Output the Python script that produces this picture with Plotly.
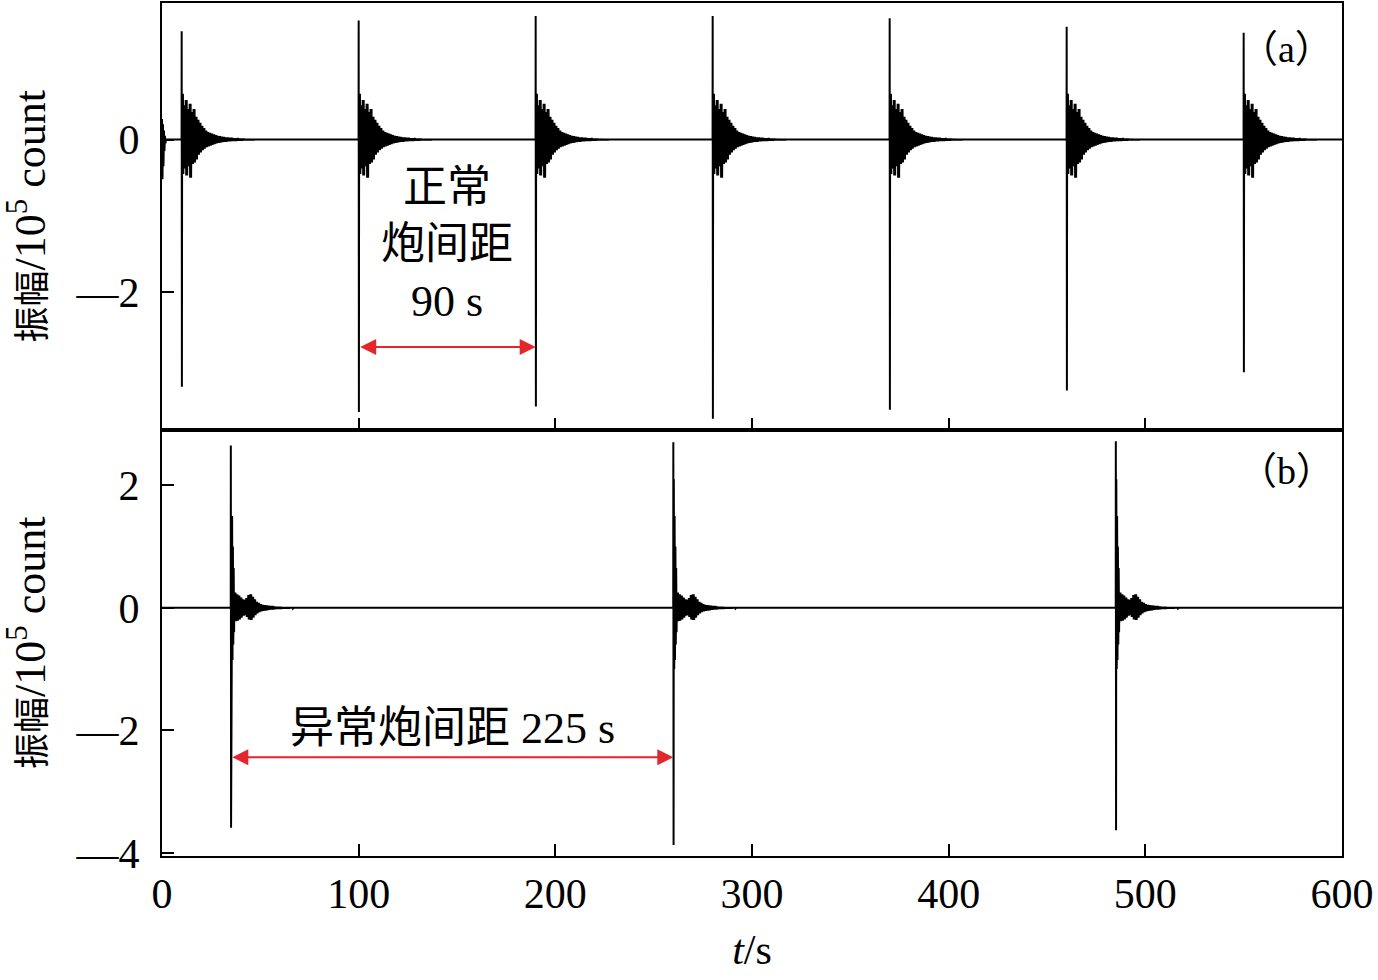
import plotly.graph_objects as go
from plotly.subplots import make_subplots

# ---------------- data (units: 10^5 count, time in s) ----------------
shots_a = [10, 100, 190, 280, 370, 460, 550]
peak_pos_a = [1.42, 1.56, 1.62, 1.62, 1.59, 1.48, 1.40]
peak_neg_a = [-3.24, -3.57, -3.50, -3.66, -3.54, -3.29, -3.05]
head_a = [0.55, -0.40, 0.60, -0.45]
coda_up_a = [0.45, 0.52, 0.40, 0.47, 0.36, 0.40, 0.30, 0.26, 0.22, 0.18, 0.15, 0.12,
             0.10, 0.09, 0.08, 0.07, 0.06, 0.05, 0.045, 0.04, 0.035, 0.03, 0.03, 0.025,
             0.025, 0.02, 0.02, 0.02, 0.015, 0.015, 0.015, 0.012, 0.012, 0.01, 0.01, 0.01]
coda_lo_a = [-0.38, -0.47, -0.35, -0.50, -0.32, -0.30, -0.26, -0.20, -0.17, -0.14, -0.12, -0.10,
             -0.09, -0.08, -0.07, -0.06, -0.05, -0.045, -0.04, -0.035, -0.03, -0.03, -0.025, -0.025,
             -0.02, -0.02, -0.02, -0.015, -0.015, -0.015, -0.012, -0.012, -0.01, -0.01, -0.01, -0.01]
init_a = [0.27, -0.52, 0.20, -0.35, 0.12, -0.15, 0.05, -0.05]

shots_b = [35, 260, 485]
peak_pos_b = [2.65, 2.70, 2.72]
peak_neg_b = [-3.59, -3.87, -3.63]
head_b = [2.10, -1.00, 1.50, -0.85, 1.00, -0.60, 0.65, -0.40]
coda_up_b = [0.25, 0.22, 0.20, 0.17, 0.14, 0.13, 0.16, 0.21, 0.22, 0.18, 0.14, 0.10,
             0.08, 0.06, 0.05, 0.045, 0.04, 0.035, 0.03, 0.03, 0.025, 0.02, 0.02, 0.02,
             0.015, 0.015, 0.015, 0.012, 0.01, 0.01]
coda_lo_b = [-0.22, -0.21, -0.19, -0.16, -0.13, -0.12, -0.15, -0.19, -0.20, -0.16, -0.12, -0.09,
             -0.07, -0.06, -0.05, -0.045, -0.04, -0.035, -0.03, -0.03, -0.025, -0.02, -0.02, -0.02,
             -0.015, -0.015, -0.015, -0.012, -0.01, -0.01]
init_b = []

x_ticks = [0, 100, 200, 300, 400, 500, 600]
y_ticks_a = [0, -2]
y_ticks_b = [2, 0, -2, -4]


def build(shots, pos, neg, head, up, lo, init):
    xs, ys = [], []
    t = 0.0
    for v in init:
        xs.append(t); ys.append(v); t += 0.25
    xs.append(t); ys.append(0.0)
    for t0, p, n in zip(shots, pos, neg):
        xs += [t0 - 0.05, t0, t0 + 0.12]
        ys += [0.0, p, n]
        tt = t0 + 0.25
        for v in head:
            xs.append(tt); ys.append(v); tt += 0.2
        for k, (u, l) in enumerate(zip(up, lo)):
            for j in range(4):
                xs.append(tt + k + j * 0.25)
                ys.append(u if j % 2 == 0 else l)
        xs.append(tt + len(up)); ys.append(0.0)
    xs.append(600); ys.append(0.0)
    return xs, ys


xa, ya = build(shots_a, peak_pos_a, peak_neg_a, head_a, coda_up_a, coda_lo_a, init_a)
xb, yb = build(shots_b, peak_pos_b, peak_neg_b, head_b, coda_up_b, coda_lo_b, init_b)

fig = make_subplots(rows=2, cols=1, shared_xaxes=False, vertical_spacing=0.0)
fig.add_trace(go.Scatter(x=xa, y=ya, mode="lines", line=dict(color="black", width=2),
                         showlegend=False, hoverinfo="skip"), row=1, col=1)
fig.add_trace(go.Scatter(x=xb, y=yb, mode="lines", line=dict(color="black", width=2),
                         showlegend=False, hoverinfo="skip"), row=2, col=1)

FONT = "Liberation Serif, Times New Roman, Noto Sans CJK SC"
axis_common = dict(showline=True, linecolor="black", linewidth=2, mirror=True,
                   ticks="inside", ticklen=12, tickwidth=2, tickcolor="black",
                   showgrid=False, zeroline=False,
                   tickfont=dict(family=FONT, size=42, color="black"))

fig.update_xaxes(range=[0, 600], tickvals=x_ticks, **axis_common)
fig.update_xaxes(showticklabels=False, row=1, col=1)
fig.update_xaxes(ticktext=[str(v) for v in x_ticks], ticklabelstandoff=0,
                 title=dict(text="<i>t</i>/s", font=dict(family=FONT, size=42, color="black"),
                            standoff=18),
                 row=2, col=1)

def lbl(v):
    return ("—" + str(-v)) if v < 0 else str(v)

ytitle = dict(text='<span style="font-size:36px">振幅</span>/10<sup>5</sup> count',
              font=dict(family=FONT, size=44, color="black"), standoff=18)
fig.update_yaxes(range=[-3.80, 1.79], tickvals=y_ticks_a, ticktext=[lbl(v) for v in y_ticks_a],
                 title=ytitle, ticklabelstandoff=12, **axis_common, row=1, col=1)
fig.update_yaxes(range=[-4.05, 2.91], tickvals=y_ticks_b, ticktext=[lbl(v) for v in y_ticks_b],
                 title=ytitle, ticklabelstandoff=12, **axis_common, row=2, col=1)

fig.update_layout(xaxis=dict(domain=[0, 1]), yaxis=dict(domain=[0.5, 1.0]),
                  yaxis2=dict(domain=[0.0, 0.5]))

RED = "#e3262c"
ann_font = dict(family="Liberation Serif, Noto Sans CJK SC", size=44, color="black")
# arrows
fig.add_annotation(x=190, y=-2.72, ax=100, ay=-2.72, xref="x", yref="y", axref="x", ayref="y",
                   text="", showarrow=True, arrowhead=2, startarrowhead=2, arrowside="end+start",
                   arrowcolor=RED, arrowwidth=2, arrowsize=1.6, startarrowsize=1.6,
                   standoff=0, startstandoff=0)
fig.add_annotation(x=260, y=-2.44, ax=35, ay=-2.44, xref="x2", yref="y2", axref="x2", ayref="y2",
                   text="", showarrow=True, arrowhead=2, startarrowhead=2, arrowside="end+start",
                   arrowcolor=RED, arrowwidth=2, arrowsize=1.6, startarrowsize=1.6,
                   standoff=0, startstandoff=0)
# labels
fig.add_annotation(x=145, y=-1.38, xref="x", yref="y", text="正常<br>炮间距<br>90 s",
                   showarrow=False, font=ann_font, align="center")
fig.add_annotation(x=147.5, y=-1.97, xref="x2", yref="y2", text="异常炮间距 225 s",
                   showarrow=False, font=ann_font)
fig.add_annotation(x=572, y=1.19, xref="x", yref="y", text="（a）", showarrow=False,
                   font=dict(family=FONT, size=38, color="black"))
fig.add_annotation(x=572, y=2.23, xref="x2", yref="y2", text="（b）", showarrow=False,
                   font=dict(family=FONT, size=38, color="black"))

fig.update_layout(width=1378, height=980, margin=dict(l=162, r=36, t=1, b=124),
                  plot_bgcolor="white", paper_bgcolor="white",
                  font=dict(family=FONT, color="black"))

fig.write_html("out.html", config={"displayModeBar": False},
               post_script="document.body.style.margin='0px';")
